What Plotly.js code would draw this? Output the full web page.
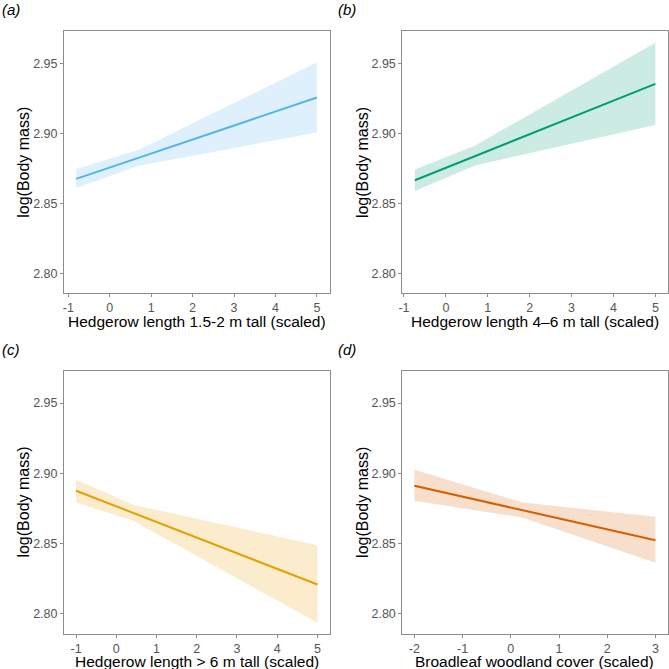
<!DOCTYPE html>
<html>
<head>
<meta charset="utf-8">
<script src="https://cdn.plot.ly/plotly-3.0.1.min.js"></script>
<style>
  html, body { margin: 0; padding: 0; background: #fff; }
  #chart { width: 669px; height: 669px; }
</style>
</head>
<body>
<div id="chart"></div>
<script>
// Predicted log(Body mass) with 95% confidence band for four landscape predictors

// (a) Hedgerow length 1.5-2 m tall
const xA = [-0.81, 0.7, 5.0];
const fitA = [2.8677, 2.8828, 2.9257];
const loA = [2.8611, 2.8771, 2.9007];
const hiA = [2.8748, 2.8885, 2.9507];

// (b) Hedgerow length 4-6 m tall
const xB = [-0.74, 0.7, 5.0];
const fitB = [2.8667, 2.8840, 2.9355];
const loB = [2.8590, 2.8773, 2.9062];
const hiB = [2.8743, 2.8915, 2.9649];

// (c) Hedgerow length > 6 m tall
const xC = [-1.0, 0.43, 5.0];
const fitC = [2.8876, 2.8717, 2.8209];
const loC = [2.8793, 2.8660, 2.7936];
const hiC = [2.8954, 2.8776, 2.8488];

// (d) Broadleaf woodland cover
const xD = [-2.0, 0.25, 3.0];
const fitD = [2.8911, 2.8737, 2.8524];
const loD = [2.8804, 2.8684, 2.8364];
const hiD = [2.9026, 2.8792, 2.8690];

const panelLabels = ['(a)', '(b)', '(c)', '(d)'];
const xTitles = [
  'Hedgerow length 1.5-2 m tall (scaled)',
  'Hedgerow length 4\u20136 m tall (scaled)',
  'Hedgerow length > 6 m tall (scaled)',
  'Broadleaf woodland cover (scaled)'
];
const yTitle = 'log(Body mass)';
const yTicks = [2.80, 2.85, 2.90, 2.95];
const xTicksHedge = [-1, 0, 1, 2, 3, 4, 5];
const xTicksWood = [-2, -1, 0, 1, 2, 3];

const panels = [
  {x: xA, fit: fitA, lo: loA, hi: hiA, ticks: xTicksHedge, line: '#56B4E9', band: 'rgba(86,180,233,0.2)', xr: [-1.104, 5.305]},
  {x: xB, fit: fitB, lo: loB, hi: hiB, ticks: xTicksHedge, line: '#009E73', band: 'rgba(0,158,115,0.2)', xr: [-1.04, 5.29]},
  {x: xC, fit: fitC, lo: loC, hi: hiC, ticks: xTicksHedge, line: '#E69F00', band: 'rgba(230,159,0,0.2)', xr: [-1.3, 5.3]},
  {x: xD, fit: fitD, lo: loD, hi: hiD, ticks: xTicksWood, line: '#D55E00', band: 'rgba(213,94,0,0.2)', xr: [-2.25, 3.25]}
];

const W = 669, H = 669;
// panel boxes in pixels: [left, right] and [top, bottom]
const colPx = [[64, 329.5], [402.3, 667.5]];
const rowPx = [[31.3, 293.3], [370.7, 633.5]];

const font = 'Liberation Sans, Arial, sans-serif';
const traces = [];
const layout = {
  width: W, height: H,
  margin: {l: 0, r: 0, t: 0, b: 0},
  paper_bgcolor: '#fff', plot_bgcolor: '#fff',
  showlegend: false,
  font: {family: font, color: '#000'},
  annotations: []
};

function note(text, xpx, ypx, opts) {
  return Object.assign({
    text: text, xref: 'paper', yref: 'paper',
    x: xpx / W, y: 1 - ypx / H, showarrow: false,
    xanchor: 'center', yanchor: 'middle', borderpad: 0,
    font: {family: font, size: 16, color: '#000'}
  }, opts || {});
}

panels.forEach((p, i) => {
  const n = i + 1;
  const xa = n === 1 ? 'x' : 'x' + n;
  const ya = n === 1 ? 'y' : 'y' + n;
  // confidence band: lower bound, then upper bound filled down to it
  traces.push({x: p.x, y: p.lo, xaxis: xa, yaxis: ya, mode: 'lines',
    line: {width: 0, color: p.band}, hoverinfo: 'skip'});
  traces.push({x: p.x, y: p.hi, xaxis: xa, yaxis: ya, mode: 'lines',
    line: {width: 0, color: p.band}, fill: 'tonexty', fillcolor: p.band, hoverinfo: 'skip'});
  // fitted line
  traces.push({x: p.x, y: p.fit, xaxis: xa, yaxis: ya, mode: 'lines',
    line: {width: 2, color: p.line}});

  const col = i % 2, row = Math.floor(i / 2);
  const cx = colPx[col], ry = rowPx[row];
  const axisCommon = {
    showgrid: false, zeroline: false,
    showline: true, mirror: true, linecolor: '#8c8c8c', linewidth: 1,
    ticks: 'outside', ticklen: 3, tickwidth: 1, tickcolor: '#8c8c8c',
    tickfont: {family: font, size: 12.5, color: '#555'}
  };
  layout['xaxis' + (n === 1 ? '' : n)] = Object.assign({}, axisCommon, {
    domain: [cx[0] / W, cx[1] / W], anchor: ya, range: p.xr,
    tickvals: p.ticks, ticktext: p.ticks.map(String)
  });
  layout['yaxis' + (n === 1 ? '' : n)] = Object.assign({}, axisCommon, {
    domain: [1 - ry[1] / H, 1 - ry[0] / H], anchor: xa, range: [2.786, 2.973],
    tickvals: yTicks, tickformat: '.2f'
  });

  // axis titles
  layout.annotations.push(note(xTitles[i], (cx[0] + cx[1]) / 2, ry[1] + (row === 0 ? 28.5 : 27.5),
    {font: {family: font, size: 15.5, color: '#000'}}));
  layout.annotations.push(note(yTitle, cx[0] - 40.5, (ry[0] + ry[1]) / 2,
    {textangle: -90}));
  // panel tag
  layout.annotations.push(note('<i>' + panelLabels[i] + '</i>',
    (col === 0 ? 1 : 337), (row === 0 ? 0 : 340),
    {xanchor: 'left', yanchor: 'top', font: {family: font, size: 15, color: '#000'}}));
});

Plotly.newPlot('chart', traces, layout, {staticPlot: true, displayModeBar: false});
</script>
</body>
</html>
